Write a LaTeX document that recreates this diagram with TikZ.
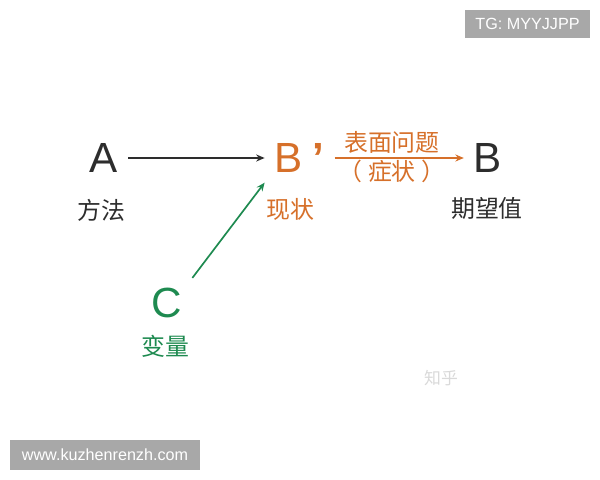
\documentclass[tikz,border=0pt]{standalone}
\usepackage{fontspec}
\setmainfont{Liberation Sans}
\newfontfamily\cjkfont{Noto Sans CJK SC}
\usetikzlibrary{arrows.meta, positioning}
\definecolor{textcolor}  {RGB}{45, 45, 45}
\definecolor{statecolor} {RGB}{214, 112, 42}
\definecolor{varcolor}   {RGB}{30, 138, 80}
\definecolor{markcolor}  {RGB}{168, 168, 168}
\tikzset{
	letter/.style={
		inner sep=7pt,
		font=\fontsize{30}{36}\selectfont
	},
	captext/.style={
		inner sep=0pt,
		font=\cjkfont\fontsize{17}{20}\selectfont
	},
	arrow/.style={
		-{Stealth[length=6pt, width=5pt]}, line width=1pt
	},
	markbox/.style={
		fill=markcolor, text=white, inner sep=0pt,
		font=\fontsize{11.5}{13}\selectfont
	}
}

\begin{document}
\begin{tikzpicture}
		\useasboundingbox (0,0) rectangle (15,12);
		
		%% ═══════════════════════════════
		%%  ROW 1 — A, B', B
		%% ═══════════════════════════════
		\node[letter, text=textcolor] (A) at (2.6,8.05) {A};
		\node[captext, text=textcolor] (method) at (2.525,6.75) {方法};
		
		\node[letter, text=statecolor] (Bp) at (7.49,8.05) {B\hspace{7pt}{\bfseries ’}};
		\node[captext, text=statecolor] (state) at (7.25,6.775) {现状};
		
		\node[letter, text=textcolor] (B) at (12.2,8.05) {B};
		\node[captext, text=textcolor] (goal) at (12.175,6.8) {期望值};
		
		%% ═══════════════════════════════
		%%  ROW 2 — C
		%% ═══════════════════════════════
		\node[letter, text=varcolor] (C) at (4.175,4.425) {C};
		\node[captext, text=varcolor] (var) at (4.125,3.35) {变量};
		
		% A → B'
		\draw[arrow, textcolor] (A) -- (Bp);
		
		% B' → B (表面问题)
		\draw[arrow, statecolor, line width=1.2pt] (Bp) -- (B)
			node[captext, midway, above=3pt, xshift=-0.18cm, text=statecolor] (surface) {表面问题}
			node[captext, midway, below=1pt, xshift=-0.18cm, text=statecolor] (symptom) {（\hspace{4pt}症状\hspace{4pt}）};
		
		% C → B'
		\draw[arrow, varcolor, line width=1.2pt] (C.north east) -- (Bp.south west);
		
		%% watermarks
		\node[markbox, minimum width=3.125cm, minimum height=0.7cm] (tg) at (13.1875,11.4) {TG: MYYJJPP};
		\node[markbox, minimum width=4.75cm, minimum height=0.75cm] (site) at (2.625,0.625) {www.kuzhenrenzh.com};
		\node[captext, text=black!15, font=\cjkfont\fontsize{12}{14}\selectfont] (zhihu) at (11.025,2.55) {知乎};

	\end{tikzpicture}
\end{document}
